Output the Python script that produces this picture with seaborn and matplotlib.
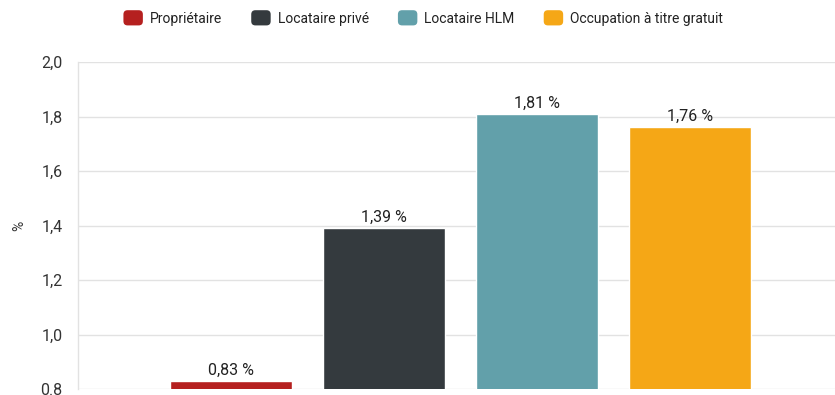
import matplotlib
matplotlib.use("Agg")
import matplotlib.pyplot as plt
import seaborn as sns
import pandas as pd
from matplotlib.patches import Patch, FancyBboxPatch
from matplotlib.legend_handler import HandlerPatch

categories = ["Propriétaire", "Locataire privé", "Locataire HLM", "Occupation à titre gratuit"]
values = [0.83, 1.39, 1.81, 1.76]
value_labels = ["0,83 %", "1,39 %", "1,81 %", "1,76 %"]
colors = ["#b5201f", "#343a3e", "#62a0aa", "#f5a716"]
yticks = [0.8, 1.0, 1.2, 1.4, 1.6, 1.8, 2.0]
ytick_labels = ["0.8", "1,0", "1,2", "1,4", "1,6", "1,8", "2,0"]

sns.set_theme(style="white")
plt.rcParams["font.family"] = ["Roboto", "DejaVu Sans"]

df = pd.DataFrame({"cat": categories, "val": values})

fig = plt.figure(figsize=(8.35, 3.95), dpi=100)
ax = fig.add_axes([78 / 835, 6 / 395, 757 / 835, 327 / 395])

sns.barplot(data=df, x="cat", y="val", hue="cat", palette=colors,
            order=categories, hue_order=categories, dodge=False,
            width=0.8, saturation=1, legend=False, ax=ax, zorder=3)

ax.set_ylim(0.8, 2.0)
ax.set_xlim(-1, 3.95)
ax.set_yticks(yticks)
ax.set_yticklabels(ytick_labels)
ax.yaxis.grid(True, color="#e2e2e2", linewidth=1, zorder=0)
ax.set_axisbelow(True)
ax.set_xticks([])
ax.set_xlabel("")
ax.set_ylabel("%", fontsize=10, color="#333333")
ax.yaxis.set_label_coords(-0.068, 0.5)
ax.tick_params(axis="y", length=0, pad=11, labelsize=11.5, labelcolor="#333333")
for s in ["top", "right", "bottom"]:
    ax.spines[s].set_visible(False)
ax.spines["left"].set_color("#e2e2e2")
ax.spines["left"].set_linewidth(1)

for i, (v, lab) in enumerate(zip(values, value_labels)):
    ax.text(i, v + 0.012, lab, ha="center", va="bottom", fontsize=11.5, color="#222222")


class RoundHandler(HandlerPatch):
    def create_artists(self, legend, orig_handle, xdescent, ydescent, width, height, fontsize, trans):
        p = FancyBboxPatch((-xdescent + 1, -ydescent - 1), width - 2, height + 2,
                           boxstyle="round,pad=0,rounding_size=3",
                           facecolor=orig_handle.get_facecolor(), edgecolor="none",
                           transform=trans)
        return [p]


handles = [Patch(facecolor=c, label=l) for c, l in zip(colors, categories)]
fig.legend(handles=handles, loc="center", bbox_to_anchor=(0.506, 0.953), ncol=4,
           frameon=False, fontsize=10, handlelength=1.6, handleheight=1.0,
           handletextpad=0.4, columnspacing=2.0,
           handler_map={Patch: RoundHandler()}, labelcolor="#222222")

fig.savefig("out.png", dpi=100)
